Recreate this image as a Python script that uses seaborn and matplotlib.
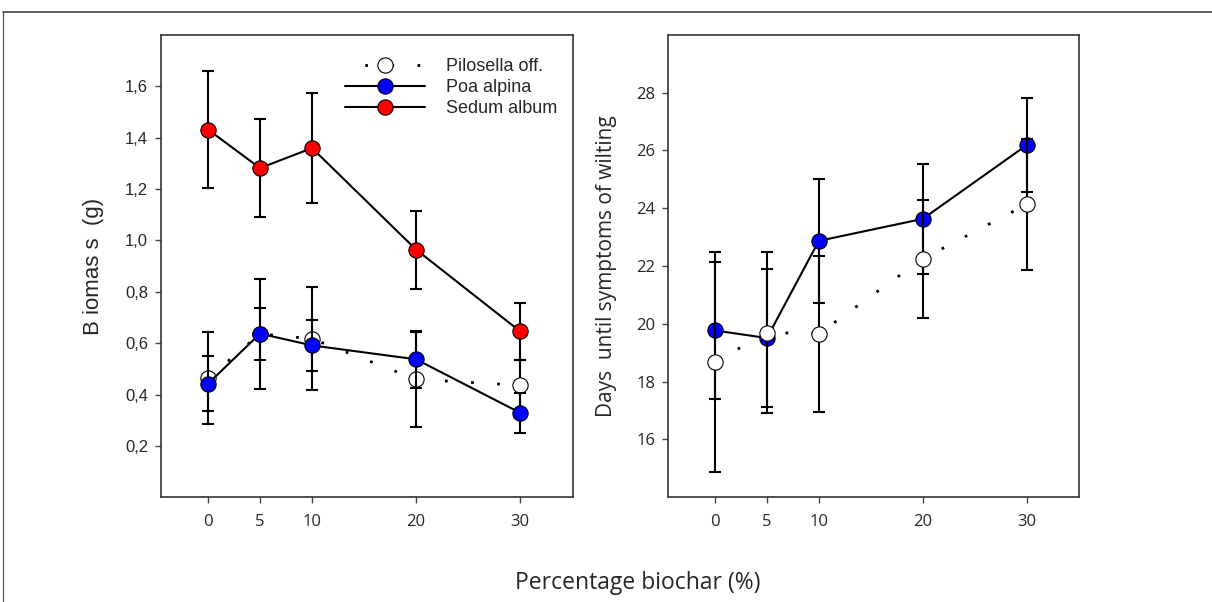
import matplotlib
matplotlib.use("Agg")
import matplotlib.pyplot as plt
import matplotlib.ticker as mticker
from matplotlib.lines import Line2D
import pandas as pd
import seaborn as sns

# biochar percentage (x axis of both panels)
pct = [0, 5, 10, 20, 30]

# left panel: biomass (g), mean and error
pilosella_biomass = [0.464, 0.636, 0.617, 0.459, 0.436]
pilosella_biomass_err = [0.18, 0.102, 0.20, 0.186, 0.097]
poa_biomass = [0.442, 0.637, 0.591, 0.537, 0.329]
poa_biomass_err = [0.108, 0.214, 0.098, 0.11, 0.077]
sedum_biomass = [1.431, 1.281, 1.359, 0.964, 0.646]
sedum_biomass_err = [0.227, 0.19, 0.214, 0.152, 0.11]

# right panel: days until symptoms of wilting
pilosella_days = [18.68, 19.70, 19.66, 22.25, 24.13]
pilosella_days_err = [3.8, 2.8, 2.7, 2.05, 2.28]
poa_days = [19.77, 19.51, 22.87, 23.63, 26.18]
poa_days_err = [2.38, 2.39, 2.14, 1.9, 1.62]

species_labels = ["Pilosella off.", "Poa alpina", "Sedum album"]
face_colors = {"Pilosella off.": "white", "Poa alpina": "#0000ff", "Sedum album": "#ff0000"}
dotted = (0, (1, 8.4))
line_styles = {"Pilosella off.": dotted, "Poa alpina": "-", "Sedum album": "-"}
line_widths = {"Pilosella off.": 2.0, "Poa alpina": 1.5, "Sedum album": 1.5}

sns.set_style("ticks")
plt.rcParams["font.family"] = ["Liberation Sans", "DejaVu Sans"]
myriad_like = ["Open Sans", "DejaVu Sans"]

fig = plt.figure(figsize=(12.12, 6.02), dpi=100)
ax1 = fig.add_axes([0.1326, 0.1739, 0.340, 0.7684])
ax2 = fig.add_axes([0.5509, 0.1739, 0.3396, 0.7684])


def draw_series(ax, x, y, err, name, z):
    df = pd.DataFrame({"x": x, "y": y})
    ax.errorbar(x, y, yerr=err, fmt="none", ecolor="black", elinewidth=1.5,
                capsize=4.3, capthick=1.5, zorder=z)
    sns.lineplot(data=df, x="x", y="y", ax=ax, color="black",
                 linestyle=line_styles[name], linewidth=line_widths[name],
                 marker="o", markersize=11, markerfacecolor=face_colors[name],
                 markeredgecolor="black", markeredgewidth=0.8,
                 dash_capstyle="butt", zorder=z + 1)


draw_series(ax1, pct, pilosella_biomass, pilosella_biomass_err, "Pilosella off.", 2)
draw_series(ax1, pct, poa_biomass, poa_biomass_err, "Poa alpina", 4)
draw_series(ax1, pct, sedum_biomass, sedum_biomass_err, "Sedum album", 6)

draw_series(ax2, pct, poa_days, poa_days_err, "Poa alpina", 2)
draw_series(ax2, pct, pilosella_days, pilosella_days_err, "Pilosella off.", 4)

for ax in (ax1, ax2):
    ax.set_xlim(-4.55, 35.07)
    ax.set_xticks(pct)
    ax.set_xticklabels([str(p) for p in pct], fontsize=11.5, family=myriad_like)
    ax.set_xlabel("")
    ax.set_ylabel("")
    for s in ax.spines.values():
        s.set_color("#333333")
        s.set_linewidth(1.2)
    ax.tick_params(direction="out", length=4, width=1, color="#444444",
                   labelsize=12, pad=5)
    ax.tick_params(axis="x", pad=8)

ax1.set_ylim(0, 1.8)
ax1.set_yticks([0.2, 0.4, 0.6, 0.8, 1.0, 1.2, 1.4, 1.6])
ax1.yaxis.set_major_formatter(mticker.FuncFormatter(lambda v, p: f"{v:.1f}".replace(".", ",")))
ax1.set_ylabel("B iomas s  (g)", fontsize=16, labelpad=15)

ax2.set_ylim(14, 30)
ax2.set_yticks([16, 18, 20, 22, 24, 26, 28])
for lab in ax2.get_yticklabels():
    lab.set_family(myriad_like)
ax2.set_ylabel("Days  until symptoms of wilting", fontsize=15, labelpad=14,
               family=myriad_like)

fig.text(0.526, 0.032, "Percentage biochar (%)", ha="center", va="center",
         fontsize=16.5, family=myriad_like)

handles = []
for n in species_labels:
    ls = (2.3, (1, 8.4)) if n == "Pilosella off." else "-"
    handles.append(Line2D([], [], color="black", linestyle=ls, linewidth=line_widths[n],
                          marker="o", markersize=11, markerfacecolor=face_colors[n],
                          markeredgecolor="black", markeredgewidth=0.8,
                          dash_capstyle="butt"))
ax1.legend(handles, species_labels, loc="upper left", bbox_to_anchor=(0.447, 0.95),
           frameon=False, fontsize=13, handlelength=4.43, handletextpad=1.16,
           labelspacing=0.23, borderpad=0, borderaxespad=0)

# outer frame (top and left edges visible)
fig.add_artist(Line2D([3 / 1212, 1.0], [1 - 12 / 602, 1 - 12 / 602],
                      transform=fig.transFigure, color="#444444", linewidth=1.2))
fig.add_artist(Line2D([3 / 1212, 3 / 1212], [0.0, 1 - 12 / 602],
                      transform=fig.transFigure, color="#444444", linewidth=0.8))

fig.savefig("out.png", dpi=100)
